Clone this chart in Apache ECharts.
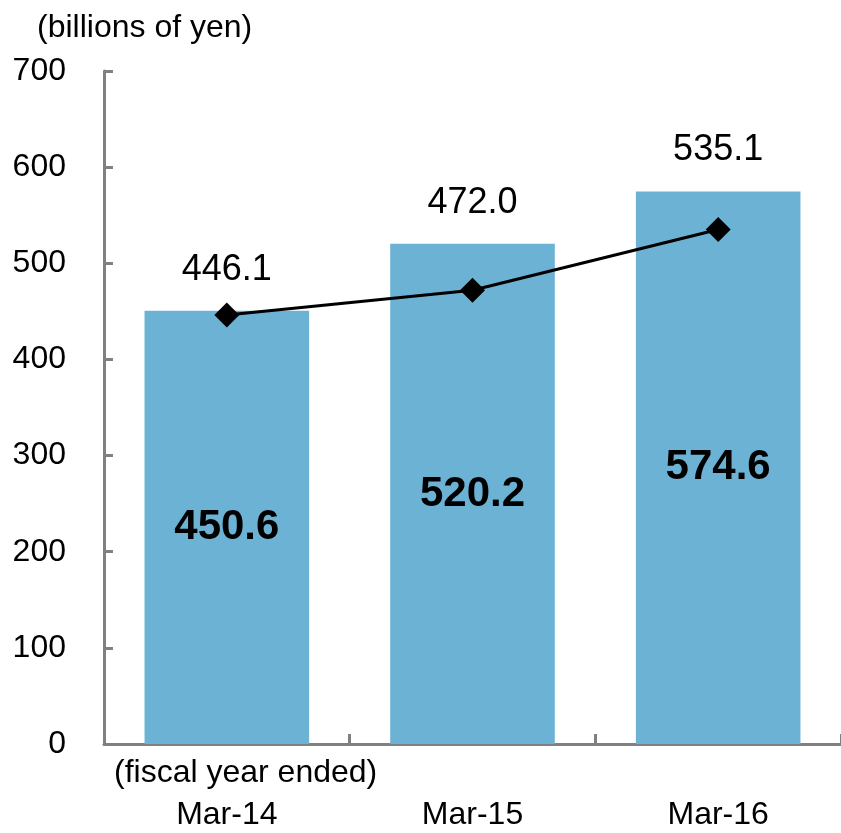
<!DOCTYPE html>
<html><head><meta charset="utf-8">
<script src="https://cdn.jsdelivr.net/npm/echarts@6/dist/echarts.min.js"></script>
<style>html,body{margin:0;padding:0;background:#fff}#c{width:841px;height:833px}</style>
</head><body><div id="c"></div>
<script>
const categories = ['Mar-14', 'Mar-15', 'Mar-16'];
const barValues = [450.6, 520.2, 574.6];
const lineValues = [446.1, 472.0, 535.1];
const yTicks = [0, 100, 200, 300, 400, 500, 600, 700];

const FONT = '"Liberation Sans", Arial, sans-serif';
const chart = echarts.init(document.getElementById('c'));
chart.setOption({
  animation: false,
  textStyle: { fontFamily: FONT },
  grid: { left: 104, right: 0, top: 71, bottom: 89, containLabel: false },
  graphic: [
    { type: 'text', left: 37, top: 12, style: { text: '(billions of yen)', font: '32px ' + FONT, fill: '#000' } },
    { type: 'text', left: 114, top: 757, style: { text: '(fiscal year ended)', font: '32px ' + FONT, fill: '#000' } }
  ],
  xAxis: {
    type: 'category', data: categories,
    axisLine: { lineStyle: { color: '#808080', width: 3 } },
    axisTick: { show: true, inside: true, length: 10, alignWithLabel: false, lineStyle: { color: '#808080', width: 3 } },
    axisLabel: { fontSize: 32, color: '#000', margin: 55, fontFamily: FONT }
  },
  yAxis: {
    type: 'value', min: yTicks[0], max: yTicks[yTicks.length - 1], interval: 100,
    splitLine: { show: false },
    axisLine: { show: true, lineStyle: { color: '#808080', width: 3 } },
    axisTick: { show: true, inside: true, length: 9, lineStyle: { color: '#808080', width: 3 } },
    axisLabel: { fontSize: 32, color: '#000', margin: 38, fontFamily: FONT }
  },
  series: [
    {
      type: 'bar', data: barValues, barCategoryGap: '33%', barGap: '-100%',
      itemStyle: { color: '#6CB2D5' },
      label: { show: true, position: 'inside', fontSize: 42, fontWeight: 'bold', color: '#000', fontFamily: FONT, formatter: p => p.value.toFixed(1) }
    },
    {
      type: 'bar', data: barValues, barCategoryGap: '33%', barGap: '-100%', silent: true,
      itemStyle: { color: 'rgba(0,0,0,0)' },
      label: { show: true, position: 'top', distance: 23, fontSize: 36, color: '#000', fontFamily: FONT, formatter: p => lineValues[p.dataIndex].toFixed(1) }
    },
    {
      type: 'line', data: lineValues, symbol: 'diamond', symbolSize: 25, z: 5,
      lineStyle: { color: '#000', width: 3 }, itemStyle: { color: '#000' },
      label: { show: false }
    }
  ]
});
</script></body></html>
